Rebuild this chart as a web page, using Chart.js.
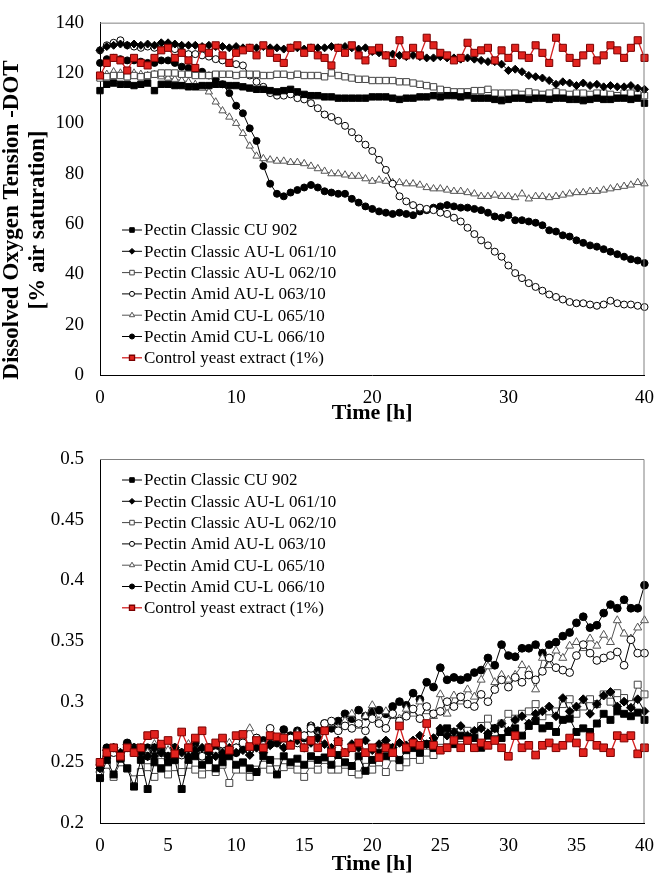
<!DOCTYPE html>
<html>
<head>
<meta charset="utf-8">
<script src="https://cdn.jsdelivr.net/npm/chart.js@4.4.0/dist/chart.umd.min.js"></script>
<style>
  body { margin: 0; background: #fff; }
  #wrap { position: relative; width: 666px; height: 883px; }
  canvas { position: absolute; left: 0; }
</style>
</head>
<body>
<div id="wrap">
  <canvas id="dotChart" width="666" height="432" style="top:0"></canvas>
  <canvas id="gfpChart" width="666" height="451" style="top:432px"></canvas>
</div>
<script>
// sampling times [h]
const hours = [0,0.5,1,1.5,2,2.5,3,3.5,4,4.5,5,5.5,6,6.5,7,7.5,8,8.5,9,9.5,
  10,10.5,11,11.5,12,12.5,13,13.5,14,14.5,15,15.5,16,16.5,17,17.5,18,18.5,19,19.5,
  20,20.5,21,21.5,22,22.5,23,23.5,24,24.5,25,25.5,26,26.5,27,27.5,28,28.5,29,29.5,
  30,30.5,31,31.5,32,32.5,33,33.5,34,34.5,35,35.5,36,36.5,37,37.5,38,38.5,39,39.5,40];

const seriesNames = [
  "Pectin Classic CU 902",
  "Pectin Classic AU-L 061/10",
  "Pectin Classic AU-L 062/10",
  "Pectin Amid AU-L 063/10",
  "Pectin Amid CU-L 065/10",
  "Pectin Amid CU-L 066/10",
  "Control yeast extract (1%)"
];

// ---- dissolved oxygen tension [% air saturation] ----
const dotCU902 = [113,115.5,116,115.5,115.5,115,115.5,116,113,115.5,
  115.5,115,115,114.5,114.5,115,115,115.5,115.5,115,
  115,114.5,114,113.5,113.5,113,112.5,113,113.5,112.5,
  111.5,111,111,110.5,110.5,110,110,110,110,110,
  110.5,110.5,110.5,110,109.5,110,110,110.5,110.5,111,
  110.5,111,111,110.5,111,110,110,110,109.5,109,
  109.5,110,110,109.5,110,110,109.5,110,110,109.5,
  109.5,109,109.5,110,109.5,109.5,110,110,109.5,110,
  108];
const dot061 = [129,130.5,131,131.5,131,131.5,131,131.5,131,132,
  132,131.5,131,131,131,130.5,131,130.5,130.5,130,
  130.5,130,130,130,130.5,130,130,129.5,130,130,
  129.5,130,130,130,130.5,130,130.5,130,129.5,130,
  128.5,128,127,127.5,127,126.5,127,126.5,126,126,
  126.5,126,126,125.5,126,125.5,125,124.5,124.5,123.5,
  121,121.5,120.5,119,118.5,118,117,115.5,116.5,116,
  115,116,115,115.5,114.5,115,114.5,114.5,115,114,
  113.5];
const dot062 = [118,118.5,119,119,118.5,119,118.5,119,119.5,120,
  120,120,119.5,119.5,119,119,119,119.5,119.5,119.5,
  119,119.5,119.5,119.5,119,119,119.5,119.5,119,119.5,
  119,119,119,118.5,120,119,118.5,118,117.5,117.5,
  117,117,117,117,116.5,116.5,116,115.5,115,114.5,
  113.5,113,112.5,112.5,112.5,113,113,113.5,112,112,
  112,112,111.5,112.5,112,111.5,112,112.5,112,111.5,
  112,112,111.5,112,112,111.5,111,112,112,111.5,
  111];
const dot063 = [129,131,132,133,131,130.5,130,130.5,130,131.5,
  131,129.5,128.5,127.5,127.5,127,126.5,125.5,125,124,
  123.5,123,119,116.5,114.5,112,111,111,111.5,110,
  109.5,108,106,103.5,102.5,101,99,96.5,94,91.5,
  89,85.5,81.5,76,71,69,67.5,66.5,66,65.5,
  64.5,64,62.5,61,58.5,56,53.5,51.5,49,47,
  43.5,40.5,38.5,36.5,35,33.5,32,31,30,29,
  28.5,28.5,28,27.5,28,29.5,28.5,28,28,27.5,
  27];
const dot065 = [118,119.5,120.5,120,119.5,120,119.5,119,119.5,118.5,
  118,117.5,117,116.5,115.5,114,112.5,108.5,105,102.5,
  100,96,91,87,86,85.5,85,85,84.5,84.5,
  84,83,82,81,80,80,79.5,79,79,78,
  77,77.5,77,76.5,76.5,76,76,75.5,74.5,74,
  74,73.5,73,73,72.5,72,71,71,71.5,71,
  71,70.5,72,70,71,71,70.5,71,71.5,72,
  72.5,72.5,73,73,73.5,74,74.5,75,75.5,76.5,
  76];
const dot066 = [124,125.5,126,125.5,125,125,124.5,124,124,125,
  125,124,122.5,122,121.5,120.5,119,117.5,115.5,112,
  107,104,98,93,83,76,72,71,72.5,73.5,
  74.5,75.5,74.5,73,72.5,72,72,70,68.5,67,
  66,65,64.5,64,64.5,64,63.5,65,65.5,66.5,
  67,67.5,67,66.5,66.5,66,65.5,64.5,63,62.5,
  63.5,61.5,61.5,61,60.5,59.5,57.5,57,55.5,55,
  53.5,52.5,51.5,51,50,49,48,47,46,45.5,
  44.5];
const dotControl = [119,124,126,125,121,126,124,123,126,129,
  130,126,128,125,122,130,128,131,127,124,
  128,129,130,127,131,128,126,124,130,131,
  128,130,127,126,123,130,128,131,127,125,
  129,130,127,124,133,127,130,127,134,131,
  128,127,125,126,132,128,129,130,125,129,
  126,130,127,126,131,128,124,134,130,126,
  124,127,130,125,127,131,129,126,130,133,
  126];

// ---- GFP signal intensity [a.u] ----
const gfpCU902 = [0.237,0.252,0.240,0.253,0.245,0.230,0.252,0.228,0.250,0.245,
  0.250,0.252,0.228,0.252,0.255,0.248,0.252,0.245,0.250,0.255,
  0.248,0.250,0.245,0.242,0.255,0.252,0.240,0.255,0.250,0.253,
  0.248,0.255,0.252,0.254,0.248,0.256,0.250,0.247,0.255,0.243,
  0.252,0.258,0.255,0.262,0.252,0.260,0.262,0.258,0.265,0.262,
  0.275,0.278,0.265,0.272,0.268,0.270,0.262,0.272,0.278,0.270,
  0.275,0.278,0.272,0.280,0.284,0.278,0.280,0.275,0.285,0.286,
  0.275,0.278,0.275,0.282,0.290,0.285,0.292,0.290,0.288,0.291,
  0.285];
const gfp061 = [0.245,0.260,0.262,0.258,0.265,0.262,0.258,0.255,0.262,0.258,
  0.255,0.262,0.258,0.255,0.260,0.262,0.258,0.255,0.258,0.262,
  0.258,0.260,0.256,0.262,0.258,0.264,0.266,0.262,0.265,0.268,
  0.262,0.266,0.270,0.265,0.262,0.268,0.258,0.265,0.262,0.268,
  0.260,0.265,0.268,0.262,0.266,0.264,0.268,0.272,0.265,0.270,
  0.278,0.272,0.275,0.280,0.272,0.276,0.278,0.274,0.278,0.282,
  0.276,0.285,0.288,0.282,0.290,0.292,0.296,0.288,0.303,0.292,
  0.296,0.302,0.290,0.298,0.305,0.308,0.296,0.300,0.295,0.302,
  0.292];
const gfp062 = [0.240,0.248,0.238,0.250,0.245,0.236,0.242,0.246,0.238,0.245,
  0.240,0.246,0.242,0.248,0.244,0.240,0.246,0.242,0.248,0.233,
  0.244,0.244,0.238,0.244,0.248,0.244,0.250,0.246,0.248,0.244,
  0.238,0.248,0.244,0.252,0.244,0.244,0.248,0.242,0.240,0.252,
  0.244,0.250,0.242,0.254,0.246,0.250,0.256,0.252,0.258,0.256,
  0.262,0.268,0.275,0.270,0.276,0.272,0.280,0.286,0.275,0.282,
  0.290,0.286,0.290,0.292,0.298,0.288,0.292,0.292,0.298,0.302,
  0.290,0.296,0.302,0.298,0.306,0.300,0.307,0.303,0.298,0.314,
  0.306];
const gfp063 = [0.242,0.255,0.258,0.252,0.262,0.262,0.258,0.255,0.262,0.258,
  0.252,0.262,0.256,0.262,0.258,0.255,0.262,0.258,0.265,0.258,
  0.262,0.266,0.260,0.270,0.264,0.278,0.268,0.264,0.270,0.266,
  0.272,0.278,0.270,0.282,0.284,0.276,0.280,0.278,0.282,0.276,
  0.286,0.282,0.278,0.290,0.284,0.288,0.294,0.286,0.296,0.290,
  0.292,0.300,0.296,0.304,0.298,0.296,0.306,0.300,0.310,0.318,
  0.312,0.320,0.316,0.322,0.318,0.325,0.336,0.328,0.326,0.324,
  0.338,0.347,0.340,0.334,0.336,0.338,0.341,0.330,0.351,0.340,
  0.340];
const gfp065 = [0.238,0.255,0.260,0.255,0.262,0.258,0.262,0.258,0.265,0.255,
  0.260,0.262,0.258,0.265,0.260,0.258,0.262,0.265,0.260,0.266,
  0.262,0.270,0.278,0.268,0.264,0.272,0.266,0.270,0.268,0.274,
  0.272,0.280,0.272,0.276,0.282,0.278,0.284,0.290,0.280,0.288,
  0.297,0.284,0.292,0.288,0.286,0.294,0.290,0.300,0.292,0.288,
  0.306,0.290,0.305,0.300,0.310,0.304,0.318,0.329,0.316,0.322,
  0.318,0.322,0.330,0.326,0.310,0.336,0.330,0.342,0.336,0.346,
  0.349,0.344,0.352,0.346,0.355,0.349,0.367,0.356,0.352,0.361,
  0.367];
const gfp066 = [0.248,0.262,0.262,0.255,0.266,0.262,0.258,0.262,0.255,0.262,
  0.256,0.262,0.258,0.262,0.266,0.258,0.262,0.260,0.255,0.262,
  0.258,0.264,0.260,0.270,0.268,0.265,0.266,0.277,0.272,0.276,
  0.270,0.280,0.276,0.282,0.278,0.284,0.290,0.286,0.293,0.288,
  0.292,0.293,0.290,0.296,0.300,0.297,0.307,0.302,0.316,0.312,
  0.328,0.318,0.320,0.318,0.320,0.324,0.326,0.336,0.330,0.347,
  0.338,0.337,0.344,0.344,0.347,0.340,0.347,0.349,0.354,0.357,
  0.365,0.370,0.361,0.363,0.373,0.380,0.377,0.384,0.377,0.377,
  0.396];
const gfpControl = [0.250,0.258,0.262,0.255,0.262,0.258,0.262,0.272,0.273,0.265,
  0.268,0.257,0.275,0.262,0.270,0.276,0.262,0.266,0.270,0.260,
  0.272,0.273,0.263,0.268,0.262,0.272,0.271,0.270,0.264,0.272,
  0.262,0.268,0.262,0.276,0.258,0.267,0.258,0.262,0.266,0.258,
  0.262,0.254,0.262,0.258,0.280,0.262,0.266,0.264,0.282,0.264,
  0.260,0.262,0.268,0.262,0.268,0.262,0.266,0.264,0.268,0.262,
  0.255,0.272,0.262,0.264,0.256,0.264,0.266,0.262,0.264,0.270,
  0.266,0.258,0.271,0.264,0.262,0.258,0.272,0.270,0.272,0.257,
  0.262];

// marker look for every series (same order as seriesNames)
const looks = [
  { pointStyle: "rect",     r: 4.5, fill: "#000",    stroke: "#000",    line: "#000" },
  { pointStyle: "rectRot",  r: 4,   fill: "#000",    stroke: "#000",    line: "#000" },
  { pointStyle: "rect",     r: 4.5, fill: "#fff",    stroke: "#444",    line: "#444" },
  { pointStyle: "circle",   r: 3.5, fill: "#fff",    stroke: "#000",    line: "#000" },
  { pointStyle: "triangle", r: 4.2, fill: "#fff",    stroke: "#555",    line: "#555" },
  { pointStyle: "circle",   r: 3.5, fill: "#000",    stroke: "#000",    line: "#000" },
  { pointStyle: "rect",     r: 5,   fill: "#e2231e", stroke: "#7a0000", line: "#d42020" }
];

const serif = "\"Liberation Serif\", \"Times New Roman\", serif";

function makeDatasets(seriesList, grow) {
  return seriesList.map((vals, i) => ({
    label: seriesNames[i],
    data: hours.map((h, k) => ({ x: h, y: vals[k] })),
    borderColor: looks[i].line,
    borderWidth: i === 6 ? 1.3 : 1,
    pointStyle: looks[i].pointStyle,
    pointRadius: looks[i].r + grow,
    pointBackgroundColor: looks[i].fill,
    pointBorderColor: looks[i].stroke,
    pointBorderWidth: 1,
    tension: 0,
    clip: false,
    order: i === 6 ? 0 : 1
  }));
}

// frame, rotated y-title and the in-plot legend
const decor = {
  id: "decor",
  afterDraw(chart, args, o) {
    const ctx = chart.ctx, a = chart.chartArea;
    ctx.save();
    ctx.strokeStyle = "#808080";
    ctx.lineWidth = 1;
    ctx.beginPath();
    ctx.moveTo(a.left, a.top + 0.5);
    ctx.lineTo(a.right - 0.5, a.top + 0.5);
    ctx.lineTo(a.right - 0.5, a.bottom);
    ctx.stroke();

    ctx.fillStyle = "#000";
    ctx.font = "bold 23px " + serif;
    ctx.textAlign = "center";
    ctx.textBaseline = "middle";
    o.yTitle.forEach((line, i) => {
      ctx.save();
      ctx.translate(o.yTitleX[i], o.yTitleY);
      ctx.rotate(-Math.PI / 2);
      ctx.fillText(line, 0, 0);
      ctx.restore();
    });

    ctx.font = "17px " + serif;
    ctx.textAlign = "left";
    seriesNames.forEach((name, i) => {
      const x = o.legendX, y = o.legendY + i * o.legendGap;
      const lk = looks[i];
      ctx.strokeStyle = lk.line;
      ctx.lineWidth = i === 6 ? 1.3 : 1;
      ctx.beginPath();
      ctx.moveTo(x, y);
      ctx.lineTo(x + 20, y);
      ctx.stroke();
      ctx.fillStyle = lk.fill;
      ctx.strokeStyle = lk.stroke;
      Chart.helpers.drawPoint(ctx, { pointStyle: lk.pointStyle, radius: lk.r * 0.72, rotation: 0, borderWidth: 1 }, x + 10, y);
      ctx.fillStyle = "#000";
      ctx.fillText(name, x + 22, y + 1);
    });
    ctx.restore();
  }
};

function axisX(step, fitHeight) {
  return {
    type: "linear", min: 0, max: 40,
    border: { display: true, color: "#000", width: 1 },
    grid: { display: false, drawTicks: false },
    ticks: { stepSize: step, padding: 12, color: "#000", maxRotation: 0, font: { family: serif, size: 19 } },
    title: { display: true, text: "Time [h]", color: "#000", padding: { top: 0, bottom: 5 },
             font: { family: serif, size: 22, weight: "bold" } },
    afterFit: s => { s.height = fitHeight; }
  };
}

function axisY(min, max, step) {
  return {
    min: min, max: max,
    border: { display: true, color: "#000", width: 1 },
    grid: { display: false, drawTicks: false },
    ticks: { stepSize: step, padding: 16, color: "#000", font: { family: serif, size: 19, lineHeight: 0.7 },
             callback: v => String(+v.toFixed(2)) },
    afterFit: s => { s.width = 100; }
  };
}

new Chart(document.getElementById("dotChart"), {
  type: "line",
  data: { datasets: makeDatasets([dotCU902, dot061, dot062, dot063, dot065, dot066, dotControl], 0) },
  options: {
    responsive: false, animation: false, events: [],
    layout: { padding: { top: 7, right: 10, left: 0, bottom: 0 } },
    scales: { x: axisX(10, 57), y: axisY(0, 140, 20) },
    plugins: {
      legend: { display: false }, tooltip: { enabled: false },
      decor: { yTitle: ["Dissolved Oxygen Tension -DOT", "[% air saturation]"], yTitleX: [12, 38], yTitleY: 220,
               legendX: 122, legendY: 230, legendGap: 21.3 }
    }
  },
  plugins: [decor]
});

new Chart(document.getElementById("gfpChart"), {
  type: "line",
  data: { datasets: makeDatasets([gfpCU902, gfp061, gfp062, gfp063, gfp065, gfp066, gfpControl], 0.4) },
  options: {
    responsive: false, animation: false, events: [],
    layout: { padding: { top: 27, right: 16, left: 0, bottom: 0 } },
    scales: { x: axisX(5, 60), y: axisY(0.2, 0.5, 0.05) },
    plugins: {
      legend: { display: false }, tooltip: { enabled: false },
      decor: { yTitle: ["GFP signal intensity [a.u]"], yTitleX: [24], yTitleY: 645,
               legendX: 122, legendY: 48, legendGap: 21.3 }
    }
  },
  plugins: [decor]
});
</script>
</body>
</html>
